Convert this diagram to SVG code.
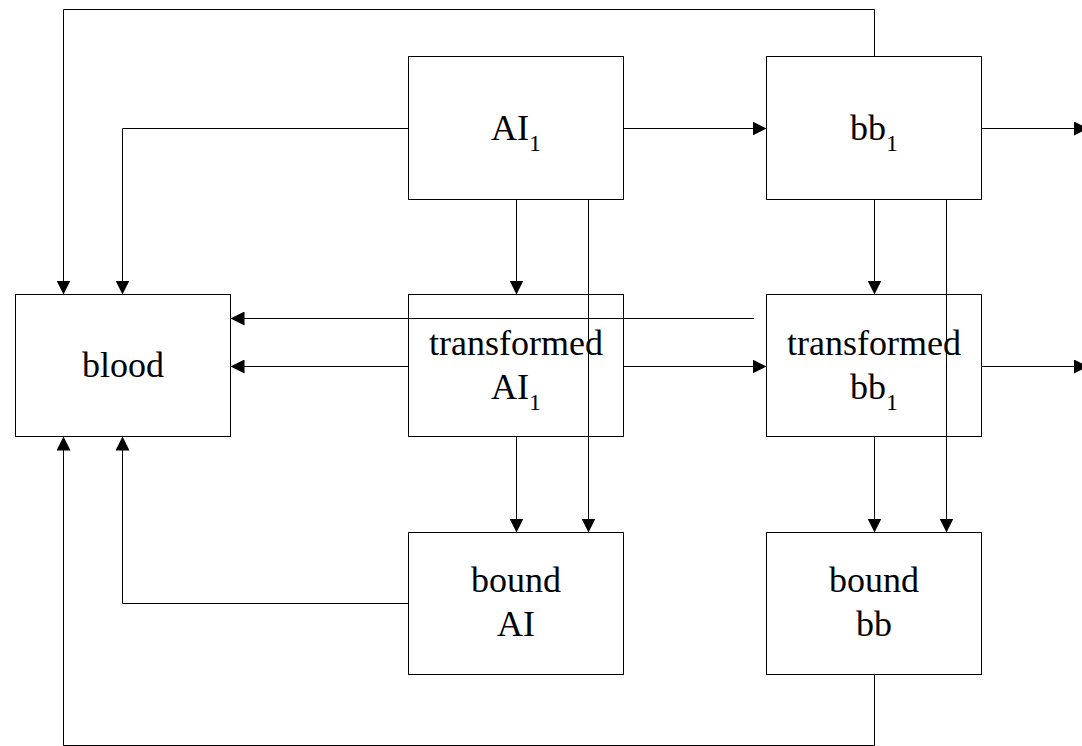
<svg xmlns="http://www.w3.org/2000/svg" width="1082" height="746" viewBox="0 0 1082 746">
<style>
.box{fill:#fff;stroke:#000;stroke-width:1}
.lbl{font-family:"Liberation Serif","Times New Roman",serif;font-size:36px;fill:#000;text-anchor:middle}
.sub{font-size:24px}
.c{fill:none;stroke:#000;stroke-width:1}
.a{marker-end:url(#ah)}
</style>
<defs>
<marker id="ah" markerUnits="userSpaceOnUse" markerWidth="14" markerHeight="14" refX="14" refY="7" orient="auto">
<path d="M0,0 L14,7 L0,14 z" fill="#000"/>
</marker>
</defs>
<rect x="0" y="0" width="1082" height="746" fill="#fff"/>
<g id="blood"><rect class="box" x="15.5" y="294.5" width="215" height="142"/><text class="lbl" x="123" y="377">blood</text></g>
<g id="AI1"><rect class="box" x="408.5" y="56.5" width="215" height="143"/><text class="lbl" x="516" y="139.5">AI<tspan class="sub" dy="11">1</tspan></text></g>
<g id="bb1"><rect class="box" x="766.5" y="56.5" width="215" height="143"/><text class="lbl" x="874" y="139.5">bb<tspan class="sub" dy="11">1</tspan></text></g>
<g id="transformedAI1"><rect class="box" x="408.5" y="294.5" width="215" height="142"/><text class="lbl" x="516" y="355">transformed</text><text class="lbl" x="516" y="399">AI<tspan class="sub" dy="11">1</tspan></text></g>
<g id="transformedbb1"><rect class="box" x="766.5" y="294.5" width="215" height="142"/><text class="lbl" x="874" y="355">transformed</text><text class="lbl" x="874" y="399">bb<tspan class="sub" dy="11">1</tspan></text></g>
<g id="boundAI"><rect class="box" x="408.5" y="532.5" width="215" height="142"/><text class="lbl" x="516" y="592">bound</text><text class="lbl" x="516" y="636">AI</text></g>
<g id="boundbb"><rect class="box" x="766.5" y="532.5" width="215" height="142"/><text class="lbl" x="874" y="592">bound</text><text class="lbl" x="874" y="636">bb</text></g>
<g id="connectors">
<path class="c a" d="M874.5,56.5 V9.5 H63.5 V294.5"/>
<path class="c a" d="M408.5,128.5 H122.5 V294.5"/>
<path class="c a" d="M623.5,128.5 H766.5"/>
<path class="c a" d="M981.5,128.5 H1088"/>
<path class="c a" d="M516.5,199.5 V294.5"/>
<path class="c a" d="M588.5,199.5 V532.5"/>
<path class="c a" d="M874.5,199.5 V294.5"/>
<path class="c a" d="M946.5,199.5 V532.5"/>
<path class="c a" d="M754,318.5 H230.5"/>
<path class="c a" d="M408.5,366.5 H230.5"/>
<path class="c a" d="M623.5,366.5 H766.5"/>
<path class="c a" d="M981.5,366.5 H1088"/>
<path class="c a" d="M516.5,436.5 V532.5"/>
<path class="c a" d="M874.5,436.5 V532.5"/>
<path class="c a" d="M408.5,603.5 H122.5 V436.5"/>
<path class="c a" d="M874.5,674.5 V745.5 H63.5 V436.5"/>
</g>
</svg>
